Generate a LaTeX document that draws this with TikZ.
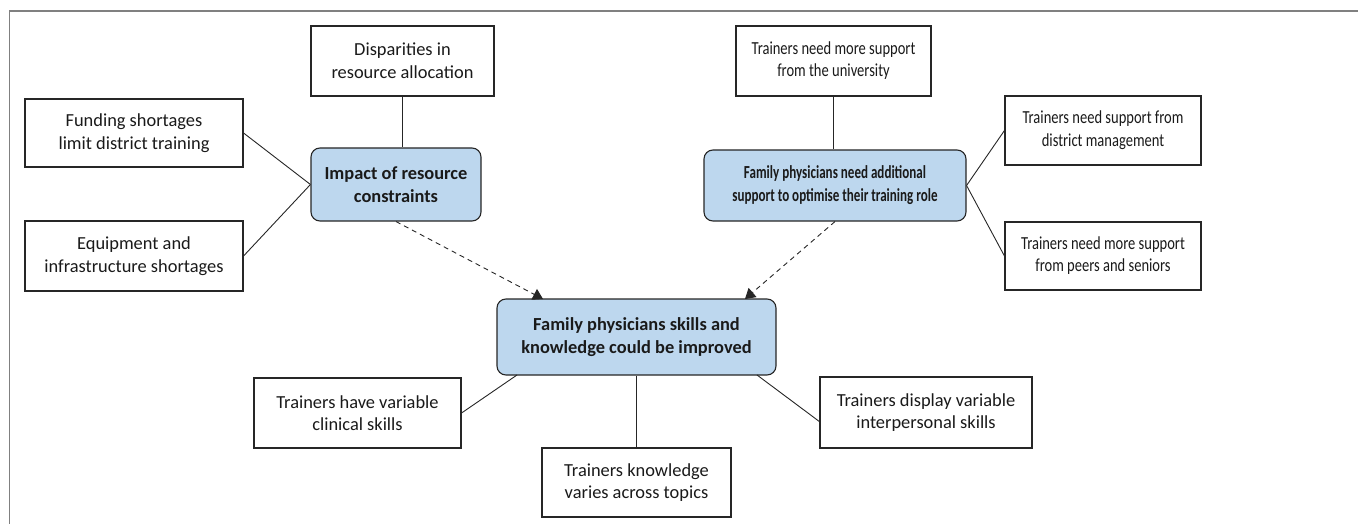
\documentclass[tikz,border=0pt]{standalone}
\usepackage{fontspec}
\usepackage{graphicx}
\setmainfont{Carlito}
\usetikzlibrary{arrows.meta}
\definecolor{boxline}{HTML}{262626}
\definecolor{themefill}{HTML}{BDD7EE}
\definecolor{framegray}{HTML}{808080}
\definecolor{txt}{HTML}{1A1A1A}
% condensed multi-line label: [horizontal factor]{lines}
\newcommand\condensed[2][0.8]{\scalebox{#1}[1]{\begin{tabular}{@{}c@{}}#2\end{tabular}}}
\begin{document}
\begin{tikzpicture}[x=1pt,y=-1pt,
  every node/.style={font=\fontsize{18.4}{22.6}\selectfont, text=txt, align=center, inner sep=0pt},
  subbox/.style={draw=boxline, line width=1.1pt, fill=white},
  theme/.style={draw=boxline, line width=1.1pt, fill=themefill, rounded corners=9pt, font=\fontsize{18.4}{22.6}\selectfont\bfseries},
  link/.style={draw=boxline, line width=0.9pt},
  influence/.style={draw=boxline, line width=0.9pt, dash pattern=on 5pt off 4pt, -{Triangle[width=12pt,length=10pt]}}
]
\useasboundingbox (0,0) rectangle (1358,524);
% outer frame
\draw[framegray, line width=1.6pt] (1358,11) -| (9.5,524);

% theme 1: resources
\node[theme, minimum width=170pt, minimum height=73pt] (impact) at (396,184.5) {Impact of resource\\constraints};
\node[subbox, minimum width=183pt, minimum height=70pt] (disp) at (402.5,61) {Disparities in\\resource allocation};
\node[subbox, minimum width=218pt, minimum height=68pt] (fund) at (134,133) {Funding shortages\\limit district training};
\node[subbox, minimum width=218pt, minimum height=70pt] (equip) at (134,256) {Equipment and\\infrastructure shortages};

% theme 2: support
\node[theme, minimum width=262pt, minimum height=71pt] (fa) at (835,185.5) {\condensed[0.71]{Family physicians need additional\\support to optimise their training role}};
\node[subbox, minimum width=195pt, minimum height=70pt] (univ) at (833.5,61) {\condensed[0.79]{Trainers need more support\\from the university}};
\node[subbox, minimum width=196pt, minimum height=69pt] (district) at (1103,130.5) {\condensed[0.79]{Trainers need support from\\district management}};
\node[subbox, minimum width=196pt, minimum height=68pt] (peers) at (1103,256) {\condensed[0.79]{Trainers need more support\\from peers and seniors}};

% theme 3: skills
\node[theme, minimum width=279pt, minimum height=76pt] (central) at (636.5,337) {Family physicians skills and\\knowledge could be improved};
\node[subbox, minimum width=207pt, minimum height=70pt] (clinical) at (357.5,413) {Trainers have variable\\clinical skills};
\node[subbox, minimum width=189pt, minimum height=69pt] (topics) at (636.5,482.5) {Trainers knowledge\\varies across topics};
\node[subbox, minimum width=212pt, minimum height=71pt] (interp) at (926,412.5) {Trainers display variable\\interpersonal skills};

% connector end points
\coordinate (inL) at (543,299);
\coordinate (inR) at (745,299);
\coordinate (outL) at (517,375);
\coordinate (outR) at (757,375);
\coordinate (interpIn) at (820,422);

% links
\draw[link] (disp.south) -- (disp.south |- impact.north);
\draw[link] (fund.east) -- (impact.west);
\draw[link] (equip.east) -- (impact.west);
\draw[link] (univ.south) -- (univ.south |- fa.north);
\draw[link] (fa.east) -- (district.west);
\draw[link] (fa.east) -- (peers.west);
\draw[link] (outL) -- (clinical.east);
\draw[link] (central.south) -- (topics.north);
\draw[link] (outR) -- (interpIn);

% influences between themes
\draw[influence] (impact.south) -- (inL);
\draw[influence] (fa.south) -- (inR);
\end{tikzpicture}
\end{document}
